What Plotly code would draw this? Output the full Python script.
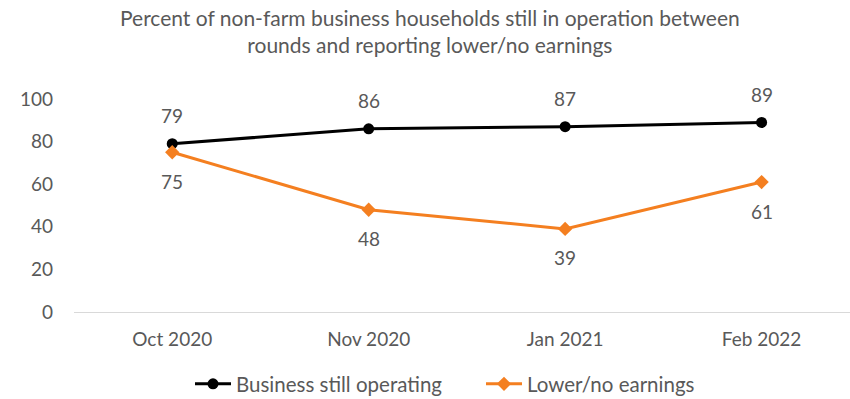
import plotly.graph_objects as go

# Survey rounds and series values (percent)
rounds = ["Oct 2020", "Nov 2020", "Jan 2021", "Feb 2022"]
still_operating = [79, 86, 87, 89]
lower_earnings = [75, 48, 39, 61]
y_ticks = [0, 20, 40, 60, 80, 100]

FONT = "Lato"
GRAY = "#595959"
BLACK = "#000000"
ORANGE = "#F47F20"

fig = go.Figure()
fig.add_trace(go.Scatter(
    x=rounds, y=still_operating, name="Business still operating",
    mode="lines+markers",
    line=dict(color=BLACK, width=3),
    marker=dict(symbol="circle", size=11, color=BLACK),
    cliponaxis=False,
))
fig.add_trace(go.Scatter(
    x=rounds, y=lower_earnings, name="Lower/no earnings",
    mode="lines+markers",
    line=dict(color=ORANGE, width=3),
    marker=dict(symbol="diamond", size=11, color=ORANGE),
    cliponaxis=False,
))

# Value labels: above the black line, below the orange line
for xs, ys, shift in ((rounds, still_operating, 28), (rounds, lower_earnings, -29)):
    for xv, yv in zip(xs, ys):
        fig.add_annotation(x=xv, y=yv, text=str(yv), showarrow=False,
                           yshift=shift, font=dict(family=FONT, size=19, color=GRAY))

# Two-line chart title
fig.add_annotation(
    text="Percent of non-farm business households still in operation between<br>rounds and reporting lower/no earnings",
    xref="paper", yref="paper", x=(430 - 74) / 776, y=(312 - 31) / 213,
    xanchor="center", yanchor="middle", showarrow=False,
    font=dict(family=FONT, size=21, color=GRAY),
)

fig.update_layout(
    width=850, height=399,
    margin=dict(l=74, r=0, t=99, b=87, autoexpand=False),
    paper_bgcolor="white", plot_bgcolor="white",
    font=dict(family=FONT, color=GRAY, size=19),
    showlegend=True,
    legend=dict(orientation="h", x=(190 - 74) / 776, xanchor="left",
                yref="container", y=(399 - 384) / 399, yanchor="middle",
                font=dict(family=FONT, size=20.5, color=GRAY), itemwidth=36,
                entrywidth=240),
    xaxis=dict(
        type="category", range=[-0.5, 3.45],
        showline=True, linecolor="#D9D9D9", linewidth=1,
        showgrid=False, ticks="", tickfont=dict(family=FONT, size=19, color=GRAY),
        ticklabelstandoff=10,
    ),
    yaxis=dict(
        range=[0, 100], tickvals=y_ticks, showgrid=False, zeroline=False,
        showline=False, ticks="", tickfont=dict(family=FONT, size=19, color=GRAY),
        ticklabelstandoff=20,
    ),
)

fig.write_html("out.html")
